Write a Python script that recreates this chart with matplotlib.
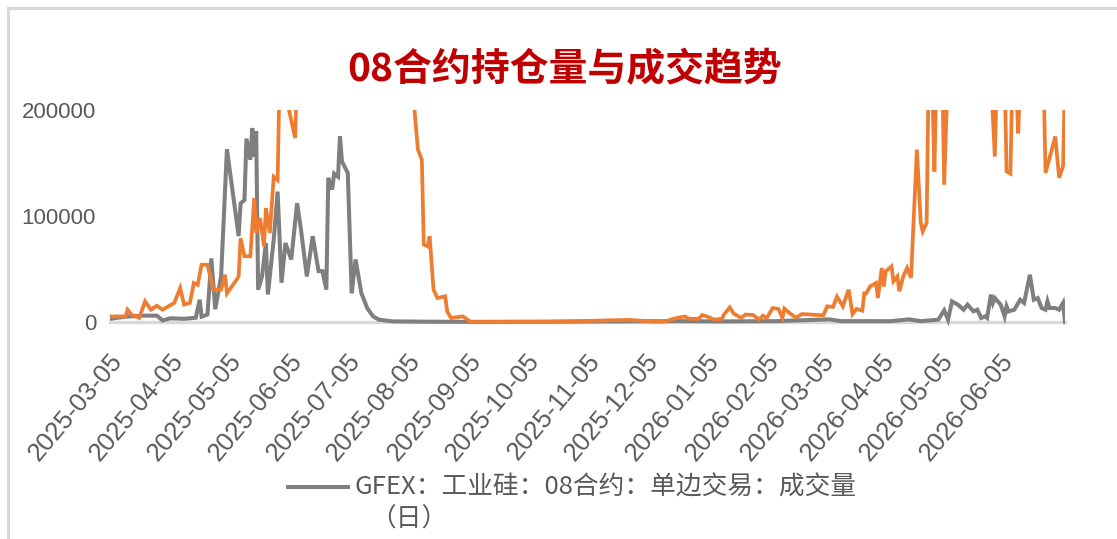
import matplotlib
matplotlib.use("Agg")
import matplotlib.pyplot as plt
from matplotlib.transforms import Bbox, TransformedBbox, ScaledTranslation
from matplotlib.lines import Line2D
from matplotlib.patches import Rectangle
import pandas as pd

# ---- text ----
title = "08合约持仓量与成交趋势"
vol_label = "GFEX：工业硅：08合约：单边交易：成交量"
vol_label_suffix = "（日）"

# ---- daily volume (grey) ----
vol_dates = [
    "2025-03-05", "2025-03-13", "2025-03-22", "2025-03-29", "2025-04-01", "2025-04-05",
    "2025-04-12", "2025-04-18", "2025-04-20", "2025-04-21", "2025-04-24", "2025-04-26",
    "2025-04-28", "2025-05-01", "2025-05-04", "2025-05-10", "2025-05-11", "2025-05-13",
    "2025-05-14", "2025-05-16", "2025-05-17", "2025-05-18", "2025-05-19", "2025-05-20",
    "2025-05-22", "2025-05-24", "2025-05-25", "2025-05-28", "2025-05-30", "2025-06-01",
    "2025-06-03", "2025-06-06", "2025-06-09", "2025-06-11", "2025-06-14", "2025-06-17",
    "2025-06-20", "2025-06-22", "2025-06-24", "2025-06-25", "2025-06-27", "2025-06-28",
    "2025-06-30", "2025-07-01", "2025-07-02", "2025-07-05", "2025-07-07", "2025-07-09",
    "2025-07-12", "2025-07-13", "2025-07-15", "2025-07-18", "2025-07-21", "2025-07-28",
    "2025-08-15", "2025-09-10", "2025-12-21", "2026-01-15", "2026-02-10", "2026-03-09",
    "2026-03-15", "2026-04-10", "2026-04-19", "2026-04-25", "2026-05-04", "2026-05-07",
    "2026-05-09", "2026-05-11", "2026-05-14", "2026-05-17", "2026-05-19", "2026-05-22",
    "2026-05-24", "2026-05-26", "2026-05-28", "2026-05-29", "2026-05-31", "2026-06-01",
    "2026-06-02", "2026-06-05", "2026-06-07", "2026-06-08", "2026-06-09", "2026-06-12",
    "2026-06-15", "2026-06-17", "2026-06-20", "2026-06-22", "2026-06-24", "2026-06-26",
    "2026-06-28", "2026-06-29", "2026-06-30", "2026-07-03", "2026-07-05", "2026-07-07",
    "2026-07-08",
]
vol_values = [
    3000, 5000, 6000, 6000, 1500, 3500,
    3000, 4000, 21000, 5000, 7000, 60000,
    12000, 43000, 163000, 81000, 112000, 115000,
    173000, 153000, 183000, 156000, 180000, 30500,
    43000, 74500, 26000, 77700, 123000, 37000,
    74500, 59000, 112000, 87000, 43000, 81000,
    48000, 48000, 30500, 136000, 125000, 140000,
    137000, 175000, 151600, 140600, 27000, 59000,
    27000, 22600, 13000, 5300, 2200, 600,
    300, 100, 800, 600, 800, 2500,
    800, 800, 2500, 800, 2200, 11000,
    2200, 19500, 16400, 11600, 16400, 10000,
    11600, 3800, 5300, 3800, 25800, 18000,
    22600, 16400, 5300, 14800, 10000, 11600,
    21000, 18000, 44600, 21000, 22600, 13200,
    11600, 19500, 13200, 13200, 11600, 18000,
    0,
]

# ---- open interest (orange) ----
oi_dates = [
    "2025-03-05", "2025-03-13", "2025-03-14", "2025-03-16", "2025-03-20", "2025-03-23",
    "2025-03-26", "2025-03-29", "2025-04-01", "2025-04-04", "2025-04-07", "2025-04-10",
    "2025-04-12", "2025-04-15", "2025-04-17", "2025-04-19", "2025-04-21", "2025-04-24",
    "2025-04-27", "2025-05-01", "2025-05-03", "2025-05-04", "2025-05-09", "2025-05-10",
    "2025-05-11", "2025-05-13", "2025-05-16", "2025-05-18", "2025-05-19", "2025-05-21",
    "2025-05-23", "2025-05-24", "2025-05-26", "2025-05-28", "2025-05-30", "2025-05-31",
    "2025-06-03", "2025-06-08", "2025-06-09", "2025-06-18", "2025-07-03", "2025-07-18",
    "2025-08-02", "2025-08-08", "2025-08-10", "2025-08-12", "2025-08-13", "2025-08-15",
    "2025-08-16", "2025-08-18", "2025-08-20", "2025-08-24", "2025-08-25", "2025-08-27",
    "2025-09-02", "2025-09-06", "2025-10-15", "2025-11-26", "2025-12-10", "2025-12-15",
    "2025-12-19", "2025-12-21", "2025-12-25", "2025-12-27", "2026-01-01", "2026-01-03",
    "2026-01-06", "2026-01-09", "2026-01-13", "2026-01-14", "2026-01-17", "2026-01-19",
    "2026-01-23", "2026-01-25", "2026-01-29", "2026-02-01", "2026-02-03", "2026-02-05",
    "2026-02-08", "2026-02-11", "2026-02-13", "2026-02-14", "2026-02-17", "2026-02-20",
    "2026-02-23", "2026-03-06", "2026-03-08", "2026-03-11", "2026-03-13", "2026-03-16",
    "2026-03-19", "2026-03-21", "2026-03-23", "2026-03-26", "2026-03-27", "2026-03-28",
    "2026-03-30", "2026-04-02", "2026-04-03", "2026-04-05", "2026-04-06", "2026-04-07",
    "2026-04-10", "2026-04-11", "2026-04-13", "2026-04-14", "2026-04-16", "2026-04-18",
    "2026-04-20", "2026-04-23", "2026-04-25", "2026-04-26", "2026-04-28", "2026-04-29",
    "2026-05-01", "2026-05-02", "2026-05-03", "2026-05-06", "2026-05-07", "2026-05-09",
    "2026-05-19", "2026-05-31", "2026-06-02", "2026-06-03", "2026-06-07", "2026-06-08",
    "2026-06-10", "2026-06-11", "2026-06-13", "2026-06-14", "2026-06-15", "2026-06-21",
    "2026-06-27", "2026-06-28", "2026-07-03", "2026-07-05", "2026-07-07", "2026-07-08",
]
oi_values = [
    5300, 5300, 11600, 7000, 3800, 19500,
    11600, 15400, 11600, 14800, 18000, 32000,
    16400, 18000, 36800, 35000, 54000, 54000,
    30500, 30500, 44600, 27000, 40000, 43000,
    79000, 62000, 62000, 117000, 84000, 98000,
    71400, 107500, 84000, 137000, 134000, 230000,
    215000, 173600, 235000, 260000, 280000, 270000,
    240000, 205000, 162600, 153000, 73000, 71400,
    80800, 30500, 22600, 24200, 10000, 3800,
    5300, 200, 100, 2000, 300, 500,
    3000, 3800, 5300, 3000, 3000, 6600,
    4700, 2200, 3000, 7000, 13800, 7900,
    3800, 7000, 6600, 2200, 5900, 3800,
    13200, 12300, 3800, 12600, 7900, 4100,
    7500, 6300, 14800, 14200, 24000, 14800,
    30500, 7500, 12300, 10700, 27000, 27000,
    33600, 36800, 22600, 51000, 33600, 47800,
    52500, 38400, 43000, 29000, 43000, 51000,
    41600, 162600, 93400, 85500, 93400, 230000,
    215000, 142000, 230000, 240000, 129500, 240000,
    260000, 230000, 156000, 230000, 240000, 142000,
    140000, 230000, 220000, 178000, 230000, 250000,
    230000, 140600, 175000, 136000, 147000, 230000,
]

# ---- axes ----
x_start, x_end = "2025-03-05", "2026-07-08"
x_tick_labels = [
    "2025-03-05", "2025-04-05", "2025-05-05", "2025-06-05", "2025-07-05", "2025-08-05",
    "2025-09-05", "2025-10-05", "2025-11-05", "2025-12-05", "2026-01-05", "2026-02-05",
    "2026-03-05", "2026-04-05", "2026-05-05", "2026-06-05",
]
y_ticks = [0, 100000, 200000]

GREY = "#7F7F7F"
ORANGE = "#ED7D31"
TEXT = "#595959"
FRAME = "#D9D9D9"

plt.rcParams["font.family"] = ["Liberation Sans", "Noto Sans CJK SC", "DejaVu Sans"]

W, H = 1117, 539
fig = plt.figure(figsize=(W / 100, H / 100), dpi=100)
fig.patch.set_facecolor("white")

ax = fig.add_axes([110 / W, (H - 322) / H, (1065 - 110) / W, (322 - 110) / H])

vd = pd.to_datetime(vol_dates)
od = pd.to_datetime(oi_dates)
vol_line, = ax.plot(vd, vol_values, color=GREY, lw=2.9, zorder=3, solid_joinstyle="miter")
oi_line, = ax.plot(od, oi_values, color=ORANGE, lw=2.7, zorder=4, solid_joinstyle="miter")

# clip at the top of the value range but let the lines sit fully on the zero line
clip = TransformedBbox(Bbox([[0, -0.05], [1, 1]]), ax.transAxes)
for ln in (vol_line, oi_line):
    ln.set_clip_box(clip)

ax.set_xlim(pd.Timestamp(x_start), pd.Timestamp(x_end))
ax.set_ylim(0, 200000)
ax.set_yticks(y_ticks)
ax.set_yticklabels([str(v) for v in y_ticks])
ax.set_xticks(pd.to_datetime(x_tick_labels))
ax.set_xticklabels(x_tick_labels)

for s in ("top", "right", "left"):
    ax.spines[s].set_visible(False)
ax.spines["bottom"].set_color(FRAME)
ax.spines["bottom"].set_linewidth(2.4)
ax.spines["bottom"].set_zorder(1)

ax.tick_params(axis="both", length=0, colors=TEXT)
ax.tick_params(axis="y", labelsize=16, pad=10)
ax.tick_params(axis="x", labelsize=18.5, pad=25)
shift = ScaledTranslation(6 / 72, 0, fig.dpi_scale_trans)
for lab in ax.get_xticklabels():
    lab.set_rotation(50)
    lab.set_rotation_mode("anchor")
    lab.set_ha("right")
    lab.set_va("center")
    lab.set_transform(lab.get_transform() + shift)

# title
fig.text(565 / W, 1 - 70 / H, title, ha="center", va="center", fontsize=28,
         fontweight="bold", color="#C00000", family=["Noto Sans CJK SC"])

# legend (grey series)
leg_font = {"family": ["Noto Sans CJK SC", "DejaVu Sans"], "size": 18.5}
fig.add_artist(Line2D([288 / W, 348 / W], [1 - 487 / H, 1 - 487 / H], color=GREY, lw=2.9))
fig.text(355 / W, 1 - 488 / H, vol_label, ha="left", va="center", color=TEXT, fontdict=leg_font)
fig.text(370 / W, 1 - 520 / H, vol_label_suffix, ha="left", va="center", color=TEXT, fontdict=leg_font)

# outer frame
fig.add_artist(Rectangle((8 / W, -0.2), 1.2, 1.2 - 8 / H, transform=fig.transFigure,
                         fill=False, edgecolor=FRAME, lw=2.2))

fig.savefig("out.png", dpi=100, facecolor="white")
